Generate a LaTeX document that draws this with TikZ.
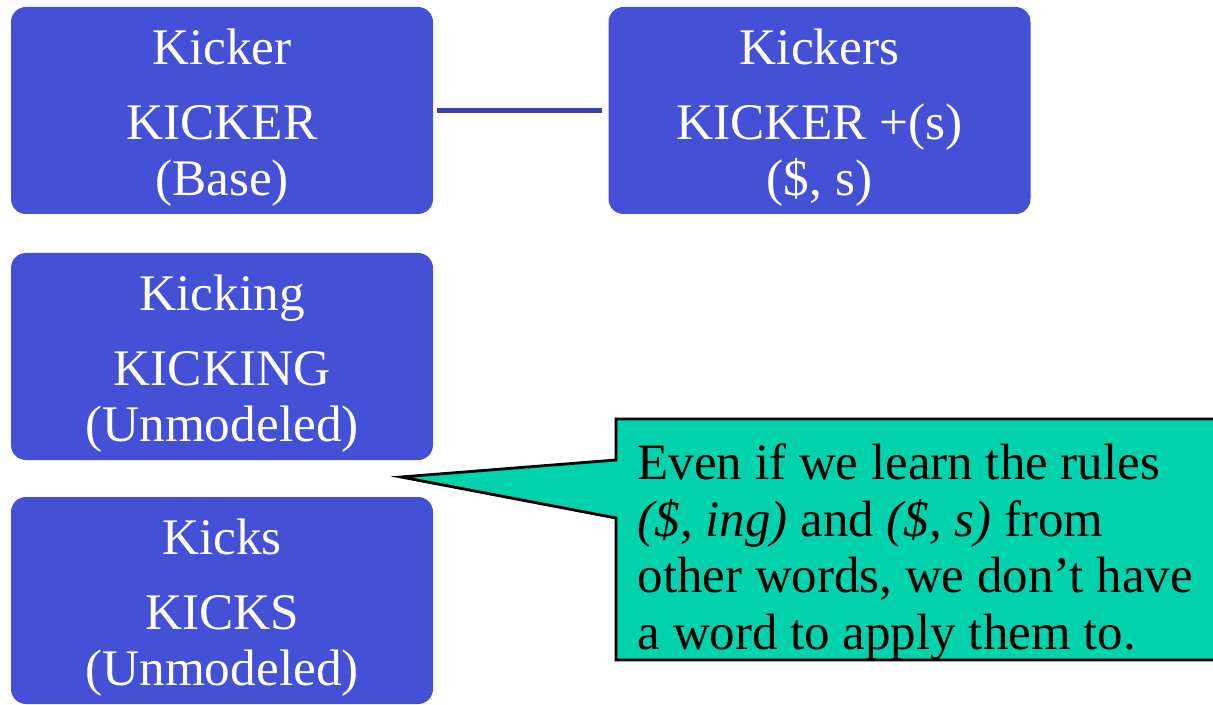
\documentclass[tikz,border=0pt]{standalone}
\usepackage{fontspec}
\setmainfont{Liberation Serif}
\usepackage{tikz}
\usetikzlibrary{positioning}
\definecolor{boxblue}{RGB}{68,80,214}
\definecolor{lineblue}{RGB}{58,64,184}
\definecolor{notegreen}{RGB}{0,210,172}
\newcommand{\topgap}{\rule{0pt}{14pt}}
\tikzset{
    wordbox/.style = {rectangle, rounded corners=0.15cm, fill=boxblue, text=white, align=center,
                      minimum width=4.22cm, minimum height=2.07cm, inner sep=0pt,
                      font=\fontsize{14.6}{15.9}\selectfont},
    edgel/.style = {lineblue, line width=1.4pt},
    notetext/.style = {align=left, inner sep=0pt, anchor=north west,
                       font=\fontsize{14.5}{16.1}\selectfont},
    noteshape/.style = {fill=notegreen, draw=black, line width=0.8pt}
}

\begin{document}
\begin{tikzpicture}
  \useasboundingbox (0,0) rectangle (12.13,7.04);
  \node[wordbox] (kicker) at (2.22,5.935) {\topgap Kicker\\[5.4pt] KICKER\\ (Base)};
  \node[wordbox] (kickers) at (8.195,5.935) {\topgap Kickers\\[5.4pt] KICKER +(s)\\ (\$, s)};
  \node[wordbox] (kicking) at (2.22,3.475) {\topgap Kicking\\[5.4pt] KICKING\\ (Unmodeled)};
  \node[wordbox] (kicks) at (2.22,1.035) {\topgap Kicks\\[5.4pt] KICKS\\ (Unmodeled)};
  \draw[edgel] ([xshift=0.03cm]kicker.east) -- ([xshift=-0.06cm]kickers.west);
  % callout
  \coordinate (tip) at (4.01,2.27);
  \filldraw[noteshape] (6.16,2.85) -- (12.4,2.85) -- (12.4,0.44) -- (6.16,0.44)
    -- (6.16,1.86) -- (tip) -- (6.16,2.44) -- cycle;
  \node[notetext] (note) at (6.37,2.61) {Even if we learn the rules\\
    \textit{(\$, ing)} and \textit{(\$, s)} from\\
    other words, we don’t have\\
    a word to apply them to.};
\end{tikzpicture}
\end{document}
